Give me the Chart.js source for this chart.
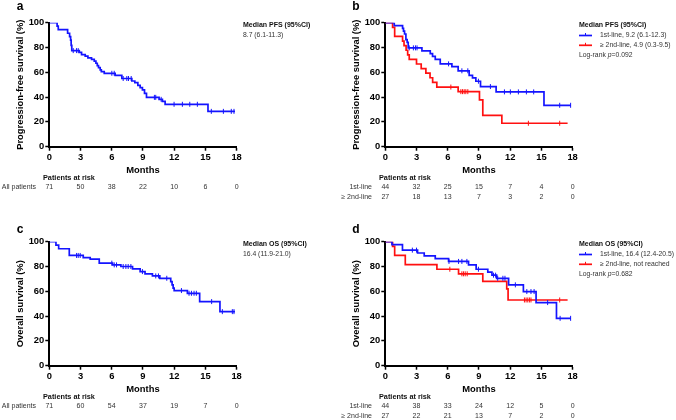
<!DOCTYPE html>
<html><head><meta charset="utf-8">
<script src="https://cdn.jsdelivr.net/npm/chart.js@4"></script>
<style>
html,body{margin:0;padding:0;background:#fff;overflow:hidden;width:676px;height:420px;}
canvas{position:absolute;}
</style></head><body>
<canvas id="ca" width="336" height="201" style="left:0;top:0"></canvas>
<canvas id="cb" width="340" height="201" style="left:336px;top:0"></canvas>
<canvas id="cc" width="336" height="201" style="left:0;top:219px"></canvas>
<canvas id="cd" width="340" height="201" style="left:336px;top:219px"></canvas>
<script>
// ---------- DATA ----------
const riskTimes = [0, 3, 6, 9, 12, 15, 18];

// Panel a: PFS, all patients
const pfsAllTime = [0, 0.75, 0.86, 1.76, 1.95, 2.05, 2.1, 2.16, 2.88, 3.10, 3.45, 3.71, 4.06, 4.32, 4.48, 4.61, 4.73, 4.89, 5.0, 5.28, 6.33, 6.97, 7.93, 8.22, 8.51, 8.73, 8.95, 9.15, 9.34, 10.55, 10.87, 11.13, 15.25, 17.84];
const pfsAllSurv = [100, 97.2, 94.4, 91.5, 88.7, 85.9, 81.7, 77.5, 76.0, 74.3, 73.0, 71.6, 70.5, 69.0, 67.3, 65.4, 63.8, 61.9, 60.6, 59.2, 57.6, 55.0, 53.0, 51.7, 49.5, 47.7, 45.8, 43.0, 39.8, 38.2, 36.6, 34.2, 28.5, 28.5];
const pfsAllCens = [2.30, 2.62, 2.78, 6.01, 6.24, 7.10, 7.45, 7.61, 7.87, 10.1, 10.23, 10.75, 11.99, 12.79, 13.5, 14.23, 15.57, 16.73, 17.49, 17.75];
const pfsAllRisk = [71, 50, 38, 22, 10, 6, 0];

// Panel b: PFS by line
const pfs1Time = [0, 0.86, 1.66, 1.75, 1.85, 1.98, 2.1, 2.2, 3.52, 4.32, 4.54, 4.8, 5.28, 6.4, 7.0, 8.06, 8.38, 8.7, 9.15, 10.65, 15.25, 17.84];
const pfs1Surv = [100, 97.7, 95.5, 93.2, 90.9, 86.4, 84.1, 79.7, 77.3, 75.0, 72.9, 70.5, 66.8, 64.5, 61.2, 57.6, 55.5, 52.8, 48.5, 44.2, 33.4, 33.4];
const pfs1Cens = [2.3, 2.7, 2.9, 3.05, 6.08, 7.36, 7.93, 8.95, 10.1, 11.45, 12.02, 12.79, 13.56, 14.26, 16.76, 17.81];
const pfs2Time = [0, 0.7, 0.9, 1.66, 1.8, 2.0, 2.15, 2.3, 3.0, 3.45, 3.9, 4.3, 4.55, 4.95, 7.0, 9.05, 9.37, 11.2, 17.52];
const pfs2Surv = [100, 96.3, 88.9, 85.2, 81.5, 77.8, 74.1, 70.4, 66.7, 63.0, 59.3, 55.6, 51.9, 48.1, 44.4, 37.7, 25.2, 18.9, 18.9];
const pfs2Cens = [6.3, 7.26, 7.42, 7.58, 7.74, 7.93, 13.75, 16.76];
const pfs1Risk = [44, 32, 25, 15, 7, 4, 0];
const pfs2Risk = [27, 18, 13, 7, 3, 2, 0];

// Panel c: OS, all patients
const osAllTime = [0, 0.64, 0.9, 1.92, 3.26, 3.93, 4.8, 6.08, 6.88, 8.0, 8.73, 9.2, 9.91, 10.62, 11.67, 11.8, 11.9, 12.0, 13.27, 14.45, 16.4, 17.84];
const osAllSurv = [100, 97.2, 94.3, 88.9, 87.2, 85.9, 82.7, 81.3, 80.0, 78.1, 75.9, 74.0, 72.4, 70.5, 67.8, 65.2, 62.5, 60.6, 58.4, 51.7, 43.6, 43.6];
const osAllCens = [2.62, 2.78, 2.97, 6.01, 6.24, 6.46, 7.1, 7.36, 7.58, 7.84, 8.95, 10.23, 10.49, 11.29, 12.7, 13.43, 13.66, 13.91, 14.13, 15.6, 16.63, 17.59, 17.75];
const osAllRisk = [71, 60, 54, 37, 19, 7, 0];

// Panel d: OS by line
const os1Time = [0, 0.64, 1.65, 3.1, 3.74, 4.8, 6.08, 8.0, 8.73, 9.85, 10.25, 10.7, 11.85, 13.27, 14.49, 16.45, 17.84];
const os1Surv = [100, 97.7, 93.2, 90.9, 88.6, 86.4, 84.1, 81.3, 77.8, 75.4, 73.0, 70.5, 65.2, 59.8, 50.9, 38.2, 38.2];
const os1Cens = [2.6, 3.0, 6.12, 7.04, 7.36, 7.84, 8.95, 10.4, 10.6, 10.8, 11.3, 11.5, 12.5, 13.6, 14.0, 14.3, 15.6, 16.8, 17.81];
const os2Time = [0, 0.7, 0.9, 1.92, 4.96, 7.04, 9.37, 11.67, 11.8, 17.52];
const os2Surv = [100, 96.3, 88.9, 81.5, 77.8, 74.1, 68.0, 62.0, 53.0, 53.0];
const os2Cens = [6.2, 7.36, 7.52, 7.68, 7.87, 13.37, 13.53, 13.69, 13.85, 14.0, 16.76];
const os1Risk = [44, 38, 33, 24, 12, 5, 0];
const os2Risk = [27, 22, 21, 13, 7, 2, 0];

// ---------- RENDER ----------
const FONT = '"Liberation Sans", Arial, Helvetica, sans-serif';
Chart.defaults.font.family = FONT;
Chart.defaults.color = '#000';
const BLUE = '#1414ff', RED = '#ff1010';

function survAt(times, surv, t) {
  let v = surv[0];
  for (let i = 0; i < times.length; i++) { if (times[i] <= t) v = surv[i]; }
  return v;
}

function curveSets(times, surv, cens, color) {
  return [
    { type: 'line', data: times.map((t, i) => ({ x: t, y: surv[i] })), stepped: true,
      borderColor: color, borderWidth: 1.7, pointRadius: 0, fill: false, order: 2 },
    { type: 'scatter', data: cens.map(t => ({ x: t, y: survAt(times, surv, t) })),
      pointStyle: 'line', rotation: 90, radius: 2.5, borderColor: color, borderWidth: 1,
      showLine: false, order: 1 }
  ];
}

const annot = {
  id: 'annot',
  afterDraw(chart, args, o) {
    const ctx = chart.ctx, xs = chart.scales.x;
    ctx.save();
    ctx.fillStyle = '#000';
    ctx.textBaseline = 'middle';
    ctx.textAlign = 'center';
    ctx.font = 'bold 12px ' + FONT;
    ctx.fillText(o.letter, 20, o.letterY);
    // legend block
    ctx.textAlign = 'left';
    ctx.font = 'bold 7px ' + FONT;
    ctx.fillStyle = '#111';
    ctx.fillText(o.header, 243, 25.5);
    ctx.font = '6.8px ' + FONT;
    ctx.fillStyle = '#333';
    if (o.single) {
      ctx.fillText(o.single, 243, 35.5);
    } else {
      o.items.forEach((it, i) => {
        const y = 35.5 + i * 9.8;
        ctx.strokeStyle = it.color; ctx.lineWidth = 1.7;
        ctx.beginPath(); ctx.moveTo(243, y); ctx.lineTo(256, y); ctx.stroke();
        ctx.lineWidth = 1;
        ctx.beginPath(); ctx.moveTo(249.5, y - 2.5); ctx.lineTo(249.5, y); ctx.stroke();
        ctx.fillStyle = '#333';
        ctx.fillText(it.label, 264, y);
      });
      const y = 55.5;
      let x = 243;
      ctx.fillText('Log-rank ', x, y); x += ctx.measureText('Log-rank ').width;
      ctx.font = 'italic 6.8px ' + FONT;
      ctx.fillText('p', x, y); x += ctx.measureText('p').width;
      ctx.font = '6.8px ' + FONT;
      ctx.fillText('=' + o.pval, x, y);
    }
    // risk table
    ctx.fillStyle = '#111';
    ctx.font = 'bold 7.3px ' + FONT;
    ctx.textAlign = 'left';
    ctx.fillText('Patients at risk', 43, 178);
    ctx.font = '7px ' + FONT;
    ctx.fillStyle = '#333';
    o.rows.forEach((r, i) => {
      const y = 187.5 + i * 9.8;
      ctx.textAlign = 'right';
      ctx.fillText(r.label, 36, y);
      ctx.textAlign = 'center';
      r.values.forEach((v, j) => ctx.fillText(String(v), xs.getPixelForValue(riskTimes[j]), y));
    });
    ctx.restore();
  }
};

function makeChart(id, width, yTitle, datasets, ann) {
  new Chart(document.getElementById(id), {
    type: 'line',
    data: { datasets },
    plugins: [annot],
    options: {
      responsive: false, animation: false, devicePixelRatio: 1,
      layout: { padding: { left: 0, top: 22.7, right: width - 236.6, bottom: 201 - 146.7 - 29 } },
      plugins: { legend: { display: false }, tooltip: { enabled: false }, annot: ann },
      scales: {
        x: {
          type: 'linear', min: 0, max: 18,
          ticks: { stepSize: 3, font: { size: 9.4, weight: 'bold' }, color: '#000', padding: 1.5, maxRotation: 0 },
          grid: { display: true, drawOnChartArea: false, drawTicks: true, tickLength: 4, tickColor: '#000', tickWidth: 1.5 },
          border: { display: true, color: '#000', width: 2 },
          title: { display: true, text: 'Months', font: { size: 9.4, weight: 'bold' }, color: '#000', padding: { top: 0, bottom: 0 } },
          afterFit(s) { s.height = 29; }
        },
        y: {
          min: 0, max: 100,
          ticks: { stepSize: 20, font: { size: 9.4, weight: 'bold' }, color: '#000', padding: 1 },
          grid: { display: true, drawOnChartArea: false, drawTicks: true, tickLength: 4, tickColor: '#000', tickWidth: 1.5 },
          border: { display: true, color: '#000', width: 2 },
          title: { display: true, text: yTitle, font: { size: 9.4, weight: 'bold' }, color: '#000', padding: { top: 14.4, bottom: 0 } },
          afterFit(s) { s.width = 49.3; }
        }
      }
    }
  });
}

makeChart('ca', 336, 'Progression-free survival (%)',
  curveSets(pfsAllTime, pfsAllSurv, pfsAllCens, BLUE),
  { letter: 'a', letterY: 6.5, header: 'Median PFS (95%CI)', single: '8.7 (6.1-11.3)',
    rows: [{ label: 'All patients', values: pfsAllRisk }] });

makeChart('cb', 340, 'Progression-free survival (%)',
  [...curveSets(pfs1Time, pfs1Surv, pfs1Cens, BLUE), ...curveSets(pfs2Time, pfs2Surv, pfs2Cens, RED)],
  { letter: 'b', letterY: 6.5, header: 'Median PFS (95%CI)',
    items: [{ color: BLUE, label: '1st-line, 9.2 (6.1-12.3)' }, { color: RED, label: '\u2265 2nd-line, 4.9 (0.3-9.5)' }],
    pval: '0.092',
    rows: [{ label: '1st-line', values: pfs1Risk }, { label: '\u2265 2nd-line', values: pfs2Risk }] });

makeChart('cc', 336, 'Overall survival (%)',
  curveSets(osAllTime, osAllSurv, osAllCens, BLUE),
  { letter: 'c', letterY: 11, header: 'Median OS (95%CI)', single: '16.4 (11.9-21.0)',
    rows: [{ label: 'All patients', values: osAllRisk }] });

makeChart('cd', 340, 'Overall survival (%)',
  [...curveSets(os1Time, os1Surv, os1Cens, BLUE), ...curveSets(os2Time, os2Surv, os2Cens, RED)],
  { letter: 'd', letterY: 11, header: 'Median OS (95%CI)',
    items: [{ color: BLUE, label: '1st-line, 16.4 (12.4-20.5)' }, { color: RED, label: '\u2265 2nd-line, not reached' }],
    pval: '0.682',
    rows: [{ label: '1st-line', values: os1Risk }, { label: '\u2265 2nd-line', values: os2Risk }] });
</script>
</body></html>
